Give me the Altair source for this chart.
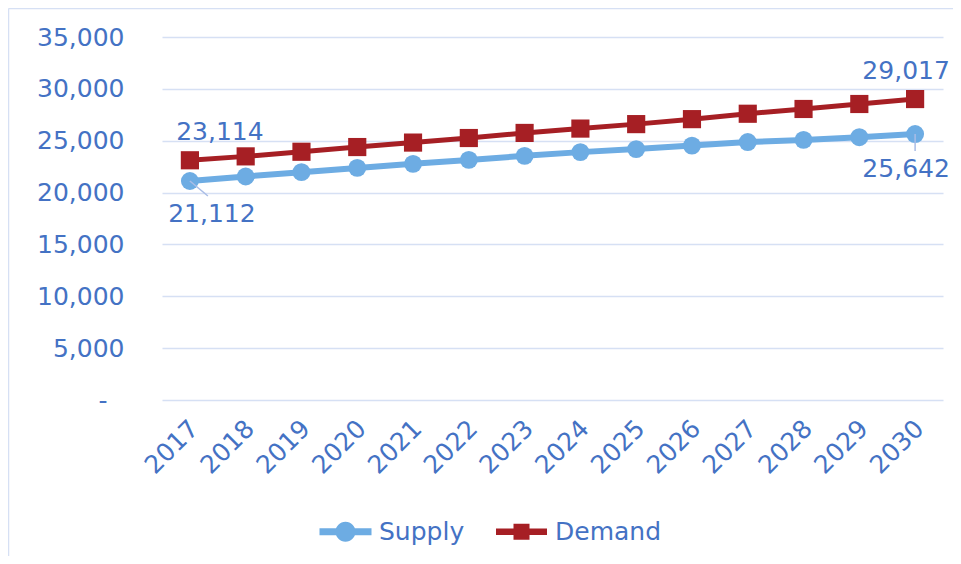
import altair as alt
import pandas as pd

years = [str(y) for y in range(2017, 2031)]
supply = [21112, 21550, 21970, 22380, 22770, 23150, 23540, 23900, 24190, 24530, 24870, 25080, 25340, 25642]
demand = [23114, 23490, 23935, 24390, 24820, 25260, 25750, 26170, 26600, 27080, 27600, 28060, 28540, 29017]
series_names = ["Supply", "Demand"]

SUPPLY_C = "#6DACE3"
DEMAND_C = "#A61F24"
TEXT_C = "#4472C4"
GRID_C = "#D6E0F4"
FONT = "DejaVu Sans"
FS = 25

rows = []
for y, s, d in zip(years, supply, demand):
    rows.append({"year": y, "series": "Supply", "value": s})
    rows.append({"year": y, "series": "Demand", "value": d})
df = pd.DataFrame(rows)

W, H = 781, 363

x_enc = alt.X("year:O", title=None,
              scale=alt.Scale(type="point", padding=0.5),
              axis=alt.Axis(labelAngle=-45, labelAlign="right", labelBaseline="middle",
                            labelFontSize=FS, labelColor=TEXT_C, labelFont=FONT,
                            labelPadding=24, labelOffset=4, ticks=False, domain=False, grid=False))
y_enc = alt.Y("value:Q", title=None,
              scale=alt.Scale(domain=[0, 35000], nice=False, zero=True),
              axis=alt.Axis(values=list(range(0, 35001, 5000)),
                            labelExpr="datum.value == 0 ? '-' : format(datum.value, ',')",
                            labelFontSize=FS, labelColor=TEXT_C, labelFont=FONT,
                            labelPadding={"condition": {"test": "datum.value === 0", "value": 55}, "value": 38},
                            ticks=False, domain=False,
                            grid=True, gridColor=GRID_C, gridWidth=1.6))

base = alt.Chart(df)

supply_line = base.transform_filter(alt.datum.series == "Supply").mark_line(strokeWidth=6, color=SUPPLY_C).encode(x=x_enc, y=y_enc)
demand_line = base.transform_filter(alt.datum.series == "Demand").mark_line(strokeWidth=5, color=DEMAND_C).encode(x=x_enc, y=y_enc)
supply_pts = base.transform_filter(alt.datum.series == "Supply").mark_point(
    shape="circle", filled=True, size=320, opacity=1, color=SUPPLY_C).encode(x=x_enc, y=y_enc)
demand_pts = base.transform_filter(alt.datum.series == "Demand").mark_point(
    shape="square", filled=True, size=330, opacity=1, color=DEMAND_C).encode(x=x_enc, y=y_enc)

# leader lines
lead_first = base.transform_filter((alt.datum.series == "Supply") & (alt.datum.year == years[0])).mark_rule(
    color="#A9BDE6", strokeWidth=1.5, x2Offset=18, y2Offset=15).encode(
    x=x_enc, y=y_enc, x2="year:O", y2="value:Q")
lead_last = base.transform_filter((alt.datum.series == "Supply") & (alt.datum.year == years[-1])).mark_rule(
    color="#A9BDE6", strokeWidth=1.5, y2Offset=17).encode(
    x=x_enc, y=y_enc, y2="value:Q")

def label(series, year, dx, dy):
    return base.transform_filter((alt.datum.series == series) & (alt.datum.year == year)).mark_text(
        font=FONT, fontSize=FS, color=TEXT_C, dx=dx, dy=dy, align="center", baseline="middle").encode(
        x=x_enc, y=y_enc, text=alt.Text("value:Q", format=","))

labels = [label("Demand", years[0], 30, -28), label("Supply", years[0], 22, 33),
          label("Demand", years[-1], -9, -28), label("Supply", years[-1], -9, 35)]

supply_path = "M-2.6,-0.35 L2.6,-0.35 L2.6,0.35 L-2.6,0.35 Z M-1,0 A1,1 0 1,1 1,0 A1,1 0 1,1 -1,0 Z"
demand_path = "M-2.55,-0.33 L2.55,-0.33 L2.55,0.33 L-2.55,0.33 Z M-0.8,-0.8 L0.8,-0.8 L0.8,0.8 L-0.8,0.8 Z"

legend_layer = base.transform_filter("datum.value < 0").mark_point(filled=True, opacity=1).encode(
    x=x_enc, y=y_enc,
    color=alt.Color("series:N", scale=alt.Scale(domain=series_names, range=[SUPPLY_C, DEMAND_C]),
                    legend=alt.Legend(title=None, orient="none", direction="horizontal",
                                      legendX=171, legendY=482,
                                      labelFontSize=FS, labelColor=TEXT_C, labelFont=FONT,
                                      symbolSize=400, labelOffset=21, columnPadding=31,
                                      symbolStrokeWidth=0, symbolOpacity=1)),
    shape=alt.Shape("series:N", scale=alt.Scale(domain=series_names, range=[supply_path, demand_path]),
                    legend=None),
)

frame_left = alt.Chart(pd.DataFrame({"k": [0]})).mark_rule(color=GRID_C, strokeWidth=1.5).encode(
    x=alt.value(-153.5), y=alt.value(-28.5), y2=alt.value(H + 200))
frame_top = alt.Chart(pd.DataFrame({"k": [0]})).mark_rule(color=GRID_C, strokeWidth=1.5).encode(
    x=alt.value(-153.5), x2=alt.value(W + 40), y=alt.value(-28.5))

chart = alt.layer(
    frame_left, frame_top,
    supply_line, demand_line, supply_pts, demand_pts, lead_first, lead_last, *labels, legend_layer
).properties(
    width=W, height=H,
    background="white",
    autosize=alt.AutoSizeParams(type="none"),
    padding={"left": 154, "top": 29, "right": 10, "bottom": 156},
).configure_view(stroke="transparent", strokeWidth=0, strokeOpacity=0)

chart.save("out.html", embed_options={"renderer": "svg", "actions": False})
